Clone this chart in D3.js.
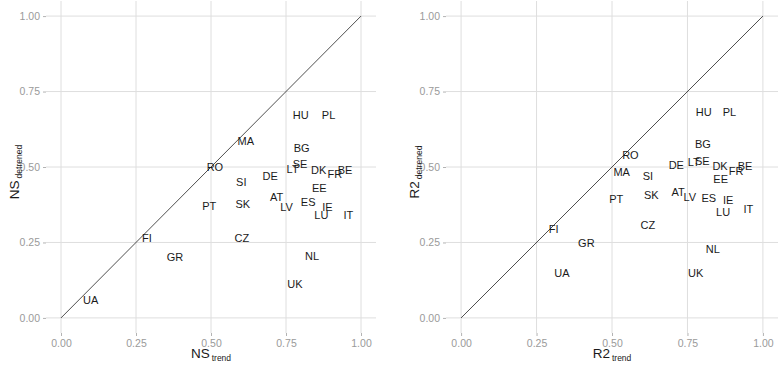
<!DOCTYPE html>
<html>
<head>
<meta charset="utf-8">
<script src="https://cdn.jsdelivr.net/npm/d3@7"></script>
<style>
  body { margin: 0; background: #fff; }
  text { font-family: "Liberation Sans", Arial, sans-serif; }
</style>
</head>
<body>
<div id="chart"></div>
<script>
// Country codes and scores
const countries = ["HU", "PL", "MA", "BG", "RO", "SE", "LT", "DK", "FR", "BE", "DE", "SI", "EE", "AT",
    "ES", "LV", "IE", "PT", "SK", "LU", "IT", "CZ", "NL", "FI", "GR", "UA", "UK"];
const nsTrend = [0.799, 0.892, 0.616, 0.802, 0.513, 0.797, 0.772, 0.859, 0.913, 0.947, 0.697, 0.601, 0.861, 0.719,
    0.824, 0.752, 0.888, 0.494, 0.606, 0.868, 0.958, 0.603, 0.837, 0.286, 0.380, 0.099, 0.780];
const nsDetrended = [0.673, 0.673, 0.586, 0.562, 0.499, 0.509, 0.492, 0.489, 0.477, 0.490, 0.470, 0.451, 0.430, 0.399,
    0.384, 0.368, 0.368, 0.370, 0.377, 0.341, 0.341, 0.263, 0.205, 0.266, 0.203, 0.060, 0.113];
const r2Trend = [0.804, 0.889, 0.532, 0.801, 0.561, 0.799, 0.771, 0.858, 0.911, 0.941, 0.713, 0.619, 0.860, 0.719,
    0.821, 0.758, 0.885, 0.514, 0.630, 0.868, 0.952, 0.619, 0.834, 0.307, 0.415, 0.334, 0.777];
const r2Detrended = [0.682, 0.682, 0.484, 0.575, 0.539, 0.519, 0.517, 0.504, 0.486, 0.502, 0.506, 0.469, 0.461, 0.418,
    0.396, 0.402, 0.390, 0.394, 0.407, 0.351, 0.360, 0.308, 0.227, 0.295, 0.249, 0.150, 0.148];
const tickValues = [0, 0.25, 0.5, 0.75, 1];

const width = 780, height = 367;
const svg = d3.select("#chart").append("svg")
    .attr("width", width)
    .attr("height", height);

function drawPanel(left, right, xs, ys, label) {
    const top = 1, bottom = 333;
    // ggplot-style 5% expansion on both axes
    const x = d3.scaleLinear().domain([-0.05, 1.05]).range([left, right]);
    const y = d3.scaleLinear().domain([-0.05, 1.05]).range([bottom, top]);
    const g = svg.append("g");

    // grid lines
    g.selectAll(".vgrid").data(tickValues).enter().append("line")
        .attr("x1", d => x(d)).attr("x2", d => x(d))
        .attr("y1", top).attr("y2", bottom)
        .attr("stroke", "#dedede").attr("stroke-width", 1);
    g.selectAll(".hgrid").data(tickValues).enter().append("line")
        .attr("x1", left).attr("x2", right)
        .attr("y1", d => y(d)).attr("y2", d => y(d))
        .attr("stroke", "#dedede").attr("stroke-width", 1);

    // axes
    const xAxis = d3.axisBottom(x).tickValues(tickValues).tickFormat(d3.format(".2f"))
        .tickSize(3).tickPadding(4);
    const yAxis = d3.axisLeft(y).tickValues(tickValues).tickFormat(d3.format(".2f"))
        .tickSize(3).tickPadding(3);
    const gx = g.append("g").attr("transform", `translate(0,${bottom})`).call(xAxis);
    const gy = g.append("g").attr("transform", `translate(${left},0)`).call(yAxis);
    [gx, gy].forEach(a => {
        a.select(".domain").remove();
        a.selectAll(".tick line").attr("stroke", "#b3b3b3");
        a.selectAll(".tick text").attr("fill", "#9a9a9a").style("font-size", "10.5px");
    });

    // 1:1 line
    g.append("line")
        .attr("x1", x(0)).attr("y1", y(0))
        .attr("x2", x(1)).attr("y2", y(1))
        .attr("stroke", "#222").attr("stroke-width", 0.8);

    // country labels
    g.selectAll(".lab").data(countries).enter().append("text")
        .attr("x", (d, i) => x(xs[i]))
        .attr("y", (d, i) => y(ys[i]))
        .attr("dy", "0.36em")
        .attr("text-anchor", "middle")
        .attr("fill", "#1a1a1a")
        .style("font-size", "11px")
        .text(d => d);

    // x title with subscript
    const xt = g.append("text")
        .attr("x", (left + right) / 2)
        .attr("y", 358)
        .attr("text-anchor", "middle")
        .attr("fill", "#1a1a1a");
    xt.append("tspan").style("font-size", "13.5px").text(label);
    xt.append("tspan").style("font-size", "8.5px").attr("dx", 2).attr("dy", 3).text("trend");

    // y title with subscript
    const yt = g.append("text")
        .attr("transform", `translate(${left - 27},${(top + bottom) / 2 + 5}) rotate(-90)`)
        .attr("text-anchor", "middle")
        .attr("fill", "#1a1a1a");
    yt.append("tspan").style("font-size", "13.5px").text(label);
    yt.append("tspan").style("font-size", "8.5px").attr("dx", 2).attr("dy", 3).text("detrened");
}

drawPanel(46, 376, nsTrend, nsDetrended, "NS");
drawPanel(446, 778, r2Trend, r2Detrended, "R2");
</script>
</body>
</html>
